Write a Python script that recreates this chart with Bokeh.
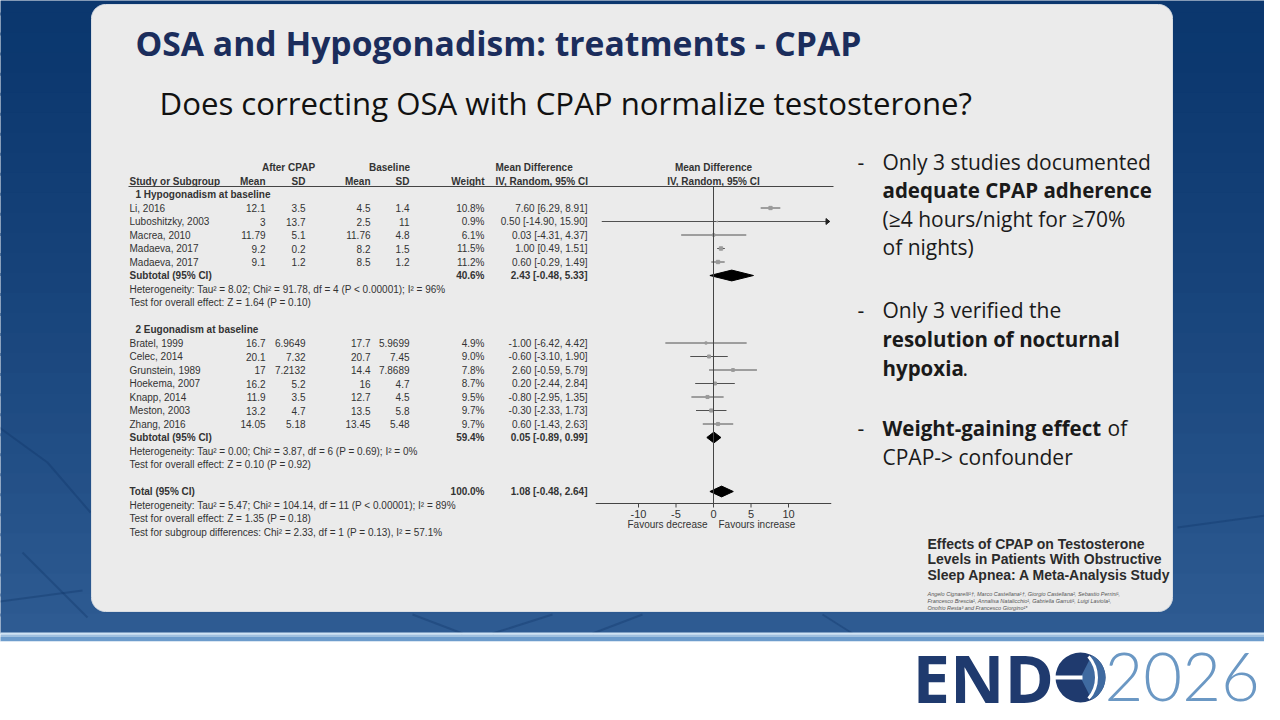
import numpy as np
from bokeh.plotting import figure
from bokeh.models import Range1d
from bokeh.core.properties import value
from bokeh.embed import file_html
from bokeh.resources import INLINE

# ---------------- data ----------------
studies1 = ["Li, 2016", "Luboshitzky, 2003", "Macrea, 2010", "Madaeva, 2017", "Madaeva, 2017"]
after_mean1 = ["12.1", "3", "11.79", "9.2", "9.1"]
after_sd1 = ["3.5", "13.7", "5.1", "0.2", "1.2"]
base_mean1 = ["4.5", "2.5", "11.76", "8.2", "8.5"]
base_sd1 = ["1.4", "11", "4.8", "1.5", "1.2"]
weight1 = [10.8, 0.9, 6.1, 11.5, 11.2]
md1 = [7.60, 0.50, 0.03, 1.00, 0.60]
lo1 = [6.29, -14.90, -4.31, 0.49, -0.29]
hi1 = [8.91, 15.90, 4.37, 1.51, 1.49]

studies2 = ["Bratel, 1999", "Celec, 2014", "Grunstein, 1989", "Hoekema, 2007", "Knapp, 2014", "Meston, 2003", "Zhang, 2016"]
after_mean2 = ["16.7", "20.1", "17", "16.2", "11.9", "13.2", "14.05"]
after_sd2 = ["6.9649", "7.32", "7.2132", "5.2", "3.5", "4.7", "5.18"]
base_mean2 = ["17.7", "20.7", "14.4", "16", "12.7", "13.5", "13.45"]
base_sd2 = ["5.9699", "7.45", "7.8689", "4.7", "4.5", "5.8", "5.48"]
weight2 = [4.9, 9.0, 7.8, 8.7, 9.5, 9.7, 9.7]
md2 = [-1.00, -0.60, 2.60, 0.20, -0.80, -0.30, 0.60]
lo2 = [-6.42, -3.10, -0.59, -2.44, -2.95, -2.33, -1.43]
hi2 = [4.42, 1.90, 5.79, 2.84, 1.35, 1.73, 2.63]

group_labels = ["1 Hypogonadism at baseline", "2 Eugonadism at baseline"]
summary_labels = ["Subtotal (95% CI)", "Subtotal (95% CI)", "Total (95% CI)"]
summary_weight = [40.6, 59.4, 100.0]
summary_md = [2.43, 0.05, 1.08]
summary_lo = [-0.48, -0.89, -0.48]
summary_hi = [5.33, 0.99, 2.64]
hetero1 = ["Heterogeneity: Tau\u00b2 = 8.02; Chi\u00b2 = 91.78, df = 4 (P < 0.00001); I\u00b2 = 96%",
           "Test for overall effect: Z = 1.64 (P = 0.10)"]
hetero2 = ["Heterogeneity: Tau\u00b2 = 0.00; Chi\u00b2 = 3.87, df = 6 (P = 0.69); I\u00b2 = 0%",
           "Test for overall effect: Z = 0.10 (P = 0.92)"]
hetero_total = ["Heterogeneity: Tau\u00b2 = 5.47; Chi\u00b2 = 104.14, df = 11 (P < 0.00001); I\u00b2 = 89%",
                "Test for overall effect: Z = 1.35 (P = 0.18)",
                "Test for subgroup differences: Chi\u00b2 = 2.33, df = 1 (P = 0.13), I\u00b2 = 57.1%"]
axis_ticks = [-10, -5, 0, 5, 10]
axis_limit = 15.7
arrow_limit = 15.5

# ---------------- figure (slide pixel coordinates) ----------------
W, H = 1264, 704
p = figure(width=W, height=H, x_range=Range1d(8, 8 + W), y_range=Range1d(8 + H, 8),
           output_backend="svg", toolbar_location=None, x_axis_type=None, y_axis_type=None,
           min_border=0, outline_line_color=None)
p.background_fill_color = "#ffffff"
p.border_fill_color = "#ffffff"
p.grid.visible = False

ROW0, ROWH = 202.0, 13.5
p.extra_y_ranges = {"row": Range1d(start=(8 + H - ROW0) / ROWH, end=(8 - ROW0) / ROWH)}
ZX, SX = 721.0, 7.5
p.extra_x_ranges = {"md": Range1d(start=(8 - ZX) / SX, end=(8 + W - ZX) / SX)}

# background gradient (overlapping bands)
n = 32
ys = np.linspace(0, 641, n + 1)
c0 = np.array([0x0b, 0x37, 0x6e]); c1 = np.array([0x2e, 0x5b, 0x92])
cols = ["#%02x%02x%02x" % tuple(int(v) for v in (c0 + (c1 - c0) * (i / (n - 1)) ** 1.3)) for i in range(n)]
p.quad(left=0, right=1280, top=ys[:-1], bottom=np.minimum(ys[1:] + 3, 641), fill_color=cols, line_color=None)
# faint network lines
p.multi_line(xs=[[0, 90], [30, 95], [0, 55, 98], [420, 470], [500, 560], [600, 650], [830, 860], [1185, 1280]],
             ys=[[610, 598], [560, 625], [430, 470, 520], [622, 641], [641, 622], [641, 622], [622, 641], [535, 522]],
             line_color="#0e3467", line_alpha=0.35, line_width=2)
# bottom bands
p.quad(left=0, right=1280, top=640, bottom=642, fill_color="#cfe3f4", line_color=None)
p.quad(left=0, right=1280, top=642, bottom=644.5, fill_color="#9fc0e0", line_color=None)
p.quad(left=0, right=1280, top=644.5, bottom=649, fill_color="#6d9ccc", line_color=None)
p.quad(left=0, right=1280, top=649, bottom=720, fill_color="#ffffff", line_color=None)
p.quad(left=0, right=1280, top=717, bottom=720, fill_color="#a0a0a0", line_color=None)

# rounded card
CL, CR, CT, CB, RAD = 99, 1180, 12, 619, 14
t = np.linspace(0, np.pi / 2, 10)
cx = np.concatenate([CR - RAD + RAD * np.sin(t), CR - RAD + RAD * np.cos(t),
                     CL + RAD - RAD * np.sin(t), CL + RAD - RAD * np.cos(t)])
cy = np.concatenate([CT + RAD - RAD * np.cos(t), CB - RAD + RAD * np.sin(t),
                     CB - RAD + RAD * np.cos(t), CT + RAD - RAD * np.sin(t)])
p.patch(x=cx, y=cy, fill_color="#ebebeb", line_color="#d8dde3", line_width=1)


def txt(x, y, s, size, font="Liberation Sans", style="normal", color="#333333", align="left",
        baseline="middle", xr="default", yr="default"):
    p.text(x=[x], y=[y], text=[s], text_font=value(font), text_font_size=f"{size}px",
           text_font_style=style, text_color=color, text_align=align, text_baseline=baseline,
           x_range_name=xr, y_range_name=yr)


# titles
txt(143, 50, "OSA and Hypogonadism: treatments - CPAP", 33.7, font="Open Sans", style="bold", color="#1b2d5c")
txt(167, 110, "Does correcting OSA with CPAP normalize testosterone?", 31.2, font="Open Sans", color="#111111")

# ---------------- forest table ----------------
TS = 10
TC = "#333333"
COL_AM, COL_AS, COL_BM, COL_BS, COL_W, COL_CI = 273, 313, 378, 417, 492, 595
txt(296, -2, "After CPAP", TS, style="bold", align="center", yr="row")
txt(397, -2, "Baseline", TS, style="bold", align="center", yr="row")
txt(503, -2, "Mean Difference", TS, style="bold", yr="row")
txt(ZX, -2, "Mean Difference", TS, style="bold", align="center", yr="row")
txt(137, -1, "Study or Subgroup", TS, style="bold", yr="row")
for xh, s in [(COL_AM, "Mean"), (COL_AS, "SD"), (COL_BM, "Mean"), (COL_BS, "SD"), (COL_W, "Weight")]:
    txt(xh, -1, s, TS, style="bold", align="right", yr="row")
txt(503, -1, "IV, Random, 95% CI", TS, style="bold", yr="row")
txt(ZX, -1, "IV, Random, 95% CI", TS, style="bold", align="center", yr="row")
p.segment(x0=136, x1=841, y0=194, y1=194, line_color="#444444", line_width=1)


def ci_str(m, l, h):
    return f"{m:.2f} [{l:.2f}, {h:.2f}]"


groups = [
    (studies1, after_mean1, after_sd1, base_mean1, base_sd1, weight1, md1, lo1, hi1, hetero1),
    (studies2, after_mean2, after_sd2, base_mean2, base_sd2, weight2, md2, lo2, hi2, hetero2),
]
r = 0
summary_rows = []
for gi, (st, am, asd, bm, bsd, w, m, l, h, het) in enumerate(groups):
    txt(143, r, group_labels[gi], TS, style="bold", yr="row")
    rows = [r + 1 + i for i in range(len(st))]
    p.text(x=[137] * len(rows), y=rows, text=st, text_font=value("Liberation Sans"), text_font_size=f"{TS}px",
           text_color=TC, text_baseline="middle", y_range_name="row")
    for xc, vals in [(COL_AM, am), (COL_AS, asd), (COL_BM, bm), (COL_BS, bsd),
                     (COL_W, [f"{v:.1f}%" for v in w]),
                     (COL_CI, [ci_str(a, b, c) for a, b, c in zip(m, l, h)])]:
        p.text(x=[xc] * len(rows), y=rows, text=vals, text_font=value("Liberation Sans"),
               text_font_size=f"{TS}px", text_color=TC, text_align="right",
               text_baseline="middle", y_range_name="row")
    hic = [min(v, arrow_limit) for v in h]
    loc = [max(v, -arrow_limit) for v in l]
    p.segment(x0=loc, x1=hic, y0=rows, y1=rows, line_color="#505050", line_width=1,
              x_range_name="md", y_range_name="row")
    p.scatter(x=m, y=rows, size=[1.0 * np.sqrt(v) for v in w], marker="square",
              fill_color="#9a9a9a", line_color="#9a9a9a", x_range_name="md", y_range_name="row")
    for v, rr in zip(h, rows):
        if v > arrow_limit:
            p.patch(x=[arrow_limit - 0.5, arrow_limit, arrow_limit - 0.5], y=[rr - 0.22, rr, rr + 0.22],
                    fill_color="#222222", line_color="#222222", x_range_name="md", y_range_name="row")
    r = rows[-1] + 1
    summary_rows.append(r)
    txt(137, r + 1, het[0], TS, yr="row")
    txt(137, r + 2, het[1], TS, yr="row")
    r = r + 4

total_row = r
summary_rows.append(total_row)
for i, rr in enumerate(summary_rows):
    txt(137, rr, summary_labels[i], TS, style="bold", yr="row")
    txt(COL_W, rr, f"{summary_weight[i]:.1f}%", TS, style="bold", align="right", yr="row")
    txt(COL_CI, rr, ci_str(summary_md[i], summary_lo[i], summary_hi[i]), TS, style="bold", align="right", yr="row")
for j, s in enumerate(hetero_total):
    txt(137, total_row + 1 + j, s, TS, yr="row")

dh = 0.4
p.patches(xs=[[l, m, h, m] for l, m, h in zip(summary_lo, summary_md, summary_hi)],
          ys=[[rr, rr - dh, rr, rr + dh] for rr in summary_rows],
          fill_color="#000000", line_color="#000000", x_range_name="md", y_range_name="row")

# forest axis
AXY = 511
p.segment(x0=0, x1=0, y0=194, y1=AXY, line_color="#444444", line_width=1, x_range_name="md")
p.segment(x0=-axis_limit, x1=axis_limit, y0=AXY, y1=AXY, line_color="#444444", line_width=1, x_range_name="md")
p.segment(x0=axis_ticks, x1=axis_ticks, y0=[AXY] * 5, y1=[AXY + 4] * 5, line_color="#444444", line_width=1,
          x_range_name="md")
p.text(x=axis_ticks, y=[AXY + 10] * 5, text=[str(t) for t in axis_ticks], text_font=value("Liberation Sans"),
       text_font_size=f"{TS + 1}px", text_color=TC, text_align="center", text_baseline="middle",
       x_range_name="md")
txt(ZX - 6, AXY + 21, "Favours decrease", TS, align="right")
txt(ZX + 5, AXY + 21, "Favours increase", TS)

# ---------------- right bullets ----------------
BF = 21
BC = "#1a1a1a"
off = 0.37 * BF
for yb in (177, 325, 443):
    txt(865, yb - off, "-", BF, font="Open Sans", color=BC)
txt(890, 177 - off, "Only 3 studies documented", BF, font="Open Sans", color=BC)
txt(890, 205 - off, "adequate CPAP adherence", 20.5, font="Open Sans", style="bold", color=BC)
txt(890, 234 - off, "(\u22654 hours/night for \u226570%", BF, font="Open Sans", color=BC)
txt(890, 262 - off, "of nights)", BF, font="Open Sans", color=BC)
txt(890, 325 - off, "Only 3 verified the", BF, font="Open Sans", color=BC)
txt(890, 354 - off, "resolution of nocturnal", 20.5, font="Open Sans", style="bold", color=BC)
txt(890, 383 - off, "hypoxia", 20.5, font="Open Sans", style="bold", color=BC)
txt(970, 383 - off, ".", BF, font="Open Sans", color=BC)
txt(890, 443 - off, "Weight-gaining effect", 20.5, font="Open Sans", style="bold", color=BC)
txt(1115, 443 - off, "of", BF, font="Open Sans", color=BC)
txt(890, 472 - off, "CPAP-> confounder", BF, font="Open Sans", color=BC)

# citation
for yy, s in [(551, "Effects of CPAP on Testosterone"), (566.5, "Levels in Patients With Obstructive"),
              (582, "Sleep Apnea: A Meta-Analysis Study")]:
    txt(935, yy, s, 14, style="bold", color="#2b2b2b")
for yy, s in [(601, "Angelo Cignarelli\u00b9\u2020, Marco Castellana\u00b9\u2020, Giorgio Castellana\u00b2, Sebastio Perrini\u00b9,"),
              (608, "Francesco Brescia\u00b9, Annalisa Natalicchio\u00b9, Gabriella Garruti\u00b9, Luigi Laviola\u00b9,"),
              (615, "Onofrio Resta\u00b3 and Francesco Giorgino\u00b9*")]:
    txt(935, yy, s, 5.5, style="italic", color="#555555")

# logo
txt(920, 684, "END", 67, font="Open Sans", style="bold", color="#1f3a6e")
p.circle(x=[1088], y=[685], radius=25, fill_color="#1f3a6e", line_color=None)
p.wedge(x=[1088], y=[685], radius=25, start_angle=-1.1, end_angle=1.1, fill_color="#3f6aa0", line_color=None)
p.quad(left=1062, right=1090, top=683, bottom=687, fill_color="#ffffff", line_color=None)
p.arc(x=[1072], y=[685], radius=32, start_angle=-0.72, end_angle=0.72, line_color="#ffffff", line_width=3)
txt(1112, 684, "2026", 67, font="Lato Light", color="#6b98c4")

open("out.html", "w").write(file_html(p, INLINE))
